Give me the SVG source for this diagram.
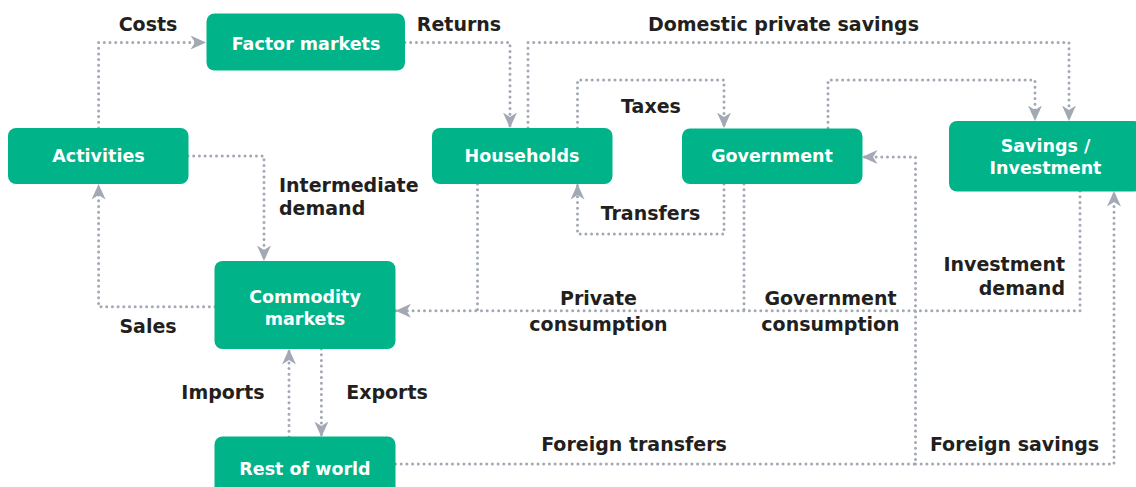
<svg xmlns="http://www.w3.org/2000/svg" width="1136" height="487" viewBox="0 0 1136 487">
<style>
.node{fill:#00B388;}
.nt{font-family:"DejaVu Sans","Liberation Sans",sans-serif;font-weight:bold;font-size:17.5px;fill:#ffffff;text-anchor:middle;}
.lb{font-family:"DejaVu Sans","Liberation Sans",sans-serif;font-weight:bold;font-size:19px;fill:#231F20;}
.c{fill:none;stroke:#A2A9B4;stroke-width:3;stroke-linecap:round;stroke-dasharray:0 5.7;}
.a{marker-end:url(#arr);}
</style>
<defs>
<marker id="arr" markerUnits="userSpaceOnUse" markerWidth="17" markerHeight="15" refX="15.5" refY="7" orient="auto" viewBox="0 0 17 15">
<path d="M0,0 L15.5,7 L0,14 L4.5,7 Z" fill="#A2A9B4"/>
</marker>
</defs>
<rect width="1136" height="487" fill="#ffffff"/>
<g id="connectors">
<path class="c a" d="M98.6,128 V42.5 H206"/>
<path class="c a" d="M405,42.5 H510 V128"/>
<path class="c a" d="M528,128 V42.5 H1069 V121"/>
<path class="c a" d="M577.5,128 V80 H724 V128"/>
<path class="c a" d="M828,128 V80 H1035 V121"/>
<path class="c a" d="M724,184 V234 H577.5 V184"/>
<path class="c a" d="M188,156 H264 V261"/>
<path class="c a" d="M215,306.7 H98.6 V184"/>
<path class="c a" d="M1080,191 V310.7 H395.5"/>
<path class="c" d="M477.5,184 V310.7"/>
<path class="c" d="M744,184 V310.7"/>
<path class="c a" d="M395.5,464 H915.5 V157 H862"/>
<path class="c a" d="M915.5,464 H1114 V191"/>
<path class="c a" d="M289,437 V349"/>
<path class="c a" d="M321.4,349 V437"/>
</g>
<g id="factor-markets">
<rect class="node" x="206.5" y="13.5" width="198.5" height="57" rx="8"/>
<text class="nt" x="306" y="49.5">Factor markets</text>
</g>
<g id="activities">
<rect class="node" x="8" y="128" width="180.5" height="56" rx="8"/>
<text class="nt" x="98.5" y="162">Activities</text>
</g>
<g id="households">
<rect class="node" x="432" y="128" width="180.5" height="56" rx="8"/>
<text class="nt" x="522" y="162">Households</text>
</g>
<g id="government">
<rect class="node" x="682" y="128.5" width="180.5" height="55.5" rx="8"/>
<text class="nt" x="772" y="162">Government</text>
</g>
<g id="savings-investment">
<rect class="node" x="949" y="121" width="193" height="70.5" rx="8"/>
<text class="nt" x="1045.5" y="152">Savings /</text>
<text class="nt" x="1045.5" y="174">Investment</text>
</g>
<g id="commodity-markets">
<rect class="node" x="214.5" y="261" width="181" height="88" rx="8"/>
<text class="nt" x="305" y="302.5">Commodity</text>
<text class="nt" x="305" y="325">markets</text>
</g>
<g id="rest-of-world">
<rect class="node" x="214.5" y="436.5" width="181" height="60" rx="8"/>
<text class="nt" x="305" y="475">Rest of world</text>
</g>
<g id="labels">
<text class="lb" x="148" y="31" text-anchor="middle">Costs</text>
<text class="lb" x="459" y="31" text-anchor="middle">Returns</text>
<text class="lb" x="783.5" y="31" text-anchor="middle">Domestic private savings</text>
<text class="lb" x="651" y="113" text-anchor="middle">Taxes</text>
<text class="lb" x="650.5" y="220" text-anchor="middle">Transfers</text>
<text class="lb" x="279" y="192">Intermediate</text>
<text class="lb" x="279" y="215">demand</text>
<text class="lb" x="148" y="333" text-anchor="middle">Sales</text>
<text class="lb" x="223" y="399" text-anchor="middle">Imports</text>
<text class="lb" x="387" y="399" text-anchor="middle">Exports</text>
<text class="lb" x="598.5" y="305" text-anchor="middle">Private</text>
<text class="lb" x="598.5" y="331" text-anchor="middle">consumption</text>
<text class="lb" x="830.5" y="305" text-anchor="middle">Government</text>
<text class="lb" x="830.5" y="331" text-anchor="middle">consumption</text>
<text class="lb" x="1065" y="271" text-anchor="end">Investment</text>
<text class="lb" x="1065" y="295" text-anchor="end">demand</text>
<text class="lb" x="634" y="451" text-anchor="middle">Foreign transfers</text>
<text class="lb" x="1014.5" y="451" text-anchor="middle">Foreign savings</text>
</g>
</svg>
